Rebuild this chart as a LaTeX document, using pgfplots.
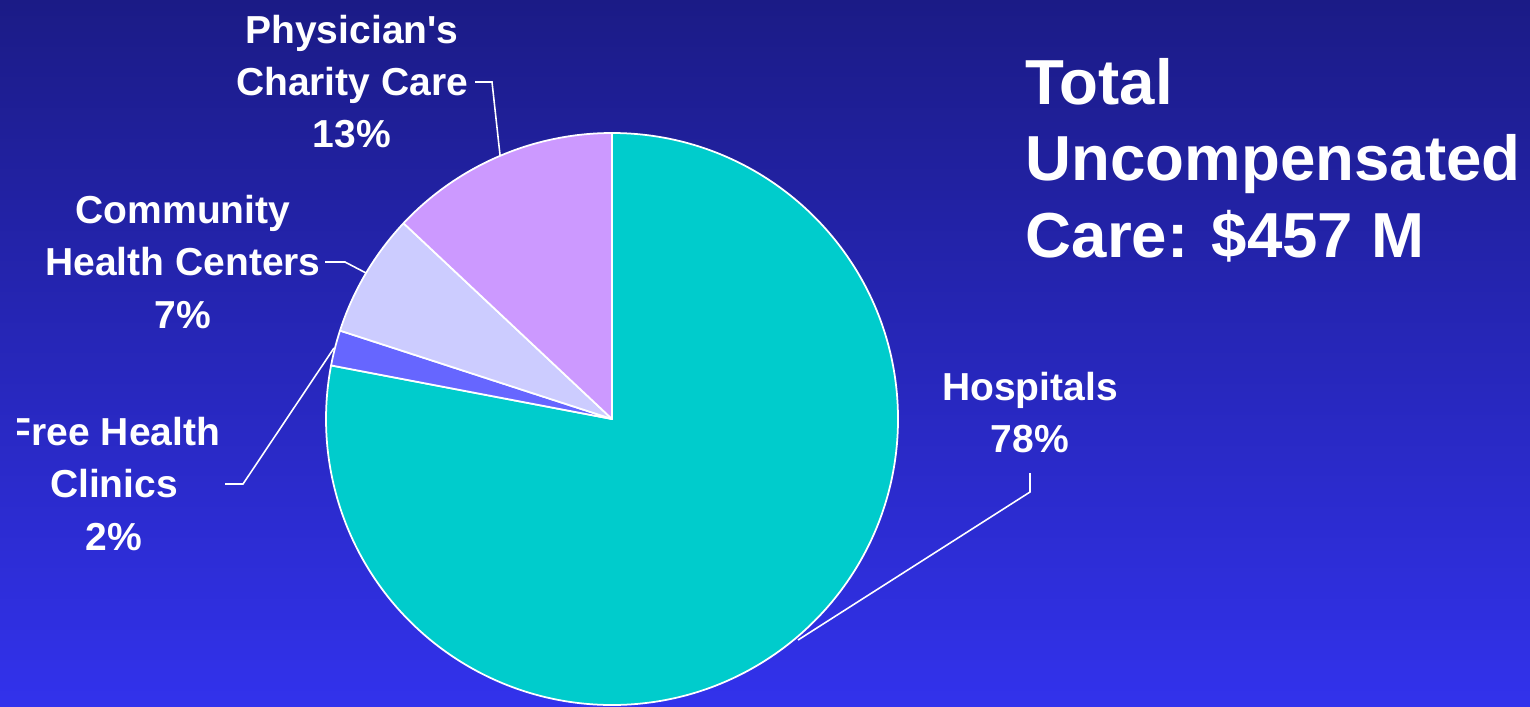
\documentclass[border=0pt]{standalone}
\usepackage{pgfplots}
\pgfplotsset{compat=1.18}
\usepackage{fontspec}
\setmainfont{Liberation Sans}

\definecolor{bgtop}{RGB}{27,27,134}
\definecolor{bgbot}{RGB}{50,50,236}
\definecolor{hosp}{RGB}{0,204,204}
\definecolor{free}{RGB}{102,102,255}
\definecolor{chc}{RGB}{204,204,255}
\definecolor{phys}{RGB}{204,153,255}

\begin{document}
\begin{tikzpicture}
\path[use as bounding box] (0,0) rectangle (153mm,70.6mm);
\shade[top color=bgtop, bottom color=bgbot] (0,0) rectangle (153mm,70.6mm);
\begin{axis}[
    x=0.1mm, y=0.1mm,
    xmin=0, xmax=1530, ymin=0, ymax=706,
    at={(0,0)}, anchor=south west,
    hide axis, clip=false,
]
% pie: share in percent, clockwise from 12 o'clock
\def\cx{612}\def\cy{287}
\xdef\angA{90}
\foreach \val/\col in {78/hosp, 2/free, 7/chc, 13/phys} {
    \pgfmathsetmacro\angB{\angA-3.6*\val}
    \edef\temp{\noexpand\fill[\col, draw=white, line width=0.5pt, line join=round]
        (axis cs:\cx,\cy) -- ++(\angA:28.6mm)
        arc[start angle=\angA, end angle=\angB, radius=28.6mm] -- cycle;}
    \temp
    \xdef\angA{\angB}
}

% leader lines
\draw[white, line width=0.45pt] (axis cs:475,624) -- (axis cs:492,624) -- (axis cs:500,551);
\draw[white, line width=0.45pt] (axis cs:325,444) -- (axis cs:345,444) -- (axis cs:366,433);
\draw[white, line width=0.45pt] (axis cs:225,222) -- (axis cs:243,222) -- (axis cs:334,358);
\draw[white, line width=0.45pt] (axis cs:1030,233) -- (axis cs:1030,214) -- (axis cs:798,66);

% labels
\tikzset{lab/.style={white, align=center, inner sep=0pt,
    font=\fontsize{11.1}{14.8}\selectfont\bfseries}}
\node[lab] at (axis cs:352,624) {Physician\textquotesingle s\\Charity Care\\13\%};
\node[lab] at (axis cs:183,444) {Community\\Health Centers\\7\%};
\begin{scope}
\clip (axis cs:17,0) rectangle (axis cs:1530,706);
\node[lab] at (axis cs:114,222) {Free Health\\Clinics\\2\%};
\end{scope}
\node[lab] at (axis cs:1030,293) {Hospitals\\78\%};

\node[white, align=left, anchor=west, inner sep=0pt,
    font=\fontsize{18.1}{21.8}\selectfont\bfseries]
    at (axis cs:1025,546) {Total\\Uncompensated\\Care: \$457 M};
\end{axis}
\end{tikzpicture}
\end{document}
